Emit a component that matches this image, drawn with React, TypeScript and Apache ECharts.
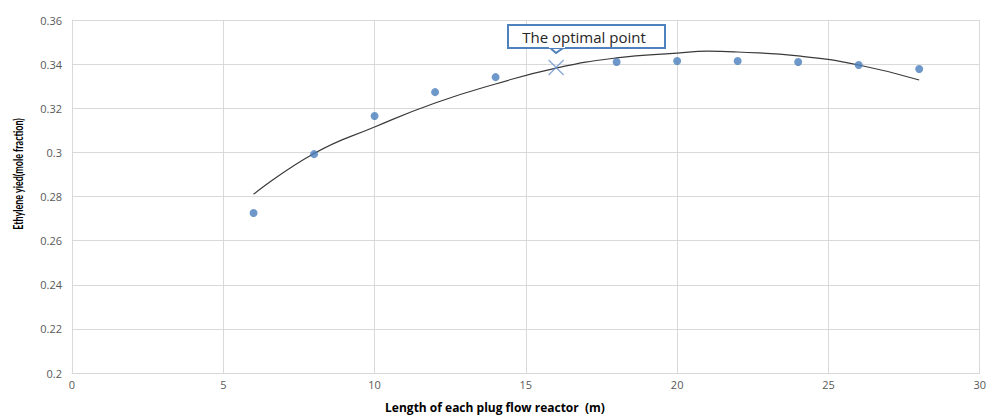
import React, { useEffect, useRef } from "react";
import * as echarts from "echarts";

const lengths = [6, 8, 10, 12, 14, 18, 20, 22, 24, 26, 28];
const yields = [0.2725, 0.2992, 0.3165, 0.3273, 0.3341, 0.341, 0.3414, 0.3414, 0.341, 0.3396, 0.3378];
const optimalPoint = [16, 0.3385];
const trendX = [6, 8, 10, 12, 14, 16, 18, 20, 21, 22, 24, 26, 28];
const trendY = [0.281, 0.2995, 0.3115, 0.3224, 0.331, 0.3382, 0.3428, 0.345, 0.3459, 0.3455, 0.3437, 0.3396, 0.3328];
const calloutText = "The optimal point";
const xTitle = "Length of each plug flow reactor  (m)";
const yTitle = "Ethylene yied(mole fraction)";

export default function App() {
  const ref = useRef<HTMLDivElement>(null);
  useEffect(() => {
    if (!ref.current) return;
    const chart = echarts.init(ref.current, null, { renderer: "svg" });
    const labelFont = "'Open Sans', sans-serif";
    chart.setOption({
      animation: false,
      grid: { left: 72, right: 4, top: 20, bottom: 43, containLabel: false },
      xAxis: {
        type: "value",
        min: 0,
        max: 30,
        interval: 5,
        axisLine: { show: true, lineStyle: { color: "#d9d9d9" } },
        axisTick: { show: false },
        splitLine: { show: true, lineStyle: { color: "#d9d9d9", width: 1 } },
        axisLabel: { color: "#595959", fontSize: 11, fontFamily: labelFont, margin: 6 },
      },
      yAxis: {
        type: "value",
        min: 0.2,
        max: 0.36,
        interval: 0.02,
        axisLine: { show: true, lineStyle: { color: "#d9d9d9" } },
        axisTick: { show: false },
        splitLine: { show: true, lineStyle: { color: "#d9d9d9", width: 1 } },
        axisLabel: { color: "#595959", fontSize: 11, fontFamily: labelFont, margin: 10 },
      },
      series: [
        {
          type: "line",
          data: trendX.map((x, i) => [x, trendY[i]]),
          smooth: true,
          symbol: "none",
          lineStyle: { color: "#3a3a3a", width: 1.2 },
          z: 2,
        },
        {
          type: "scatter",
          data: lengths.map((x, i) => [x, yields[i]]),
          symbol: "circle",
          symbolSize: 8,
          itemStyle: { color: "#4a7ebb" },
          z: 3,
        },
        {
          type: "scatter",
          data: [optimalPoint],
          symbol: "path://M0,0L10,10M10,0L0,10",
          symbolSize: 15,
          itemStyle: { color: "none", borderColor: "#6a93c9", borderWidth: 1.3 },
          z: 4,
        },
      ],
      graphic: [
        {
          type: "polygon",
          shape: { points: [[548, 46], [566, 46], [556, 53]] },
          style: { fill: "#fff", stroke: "#4f81bd", lineWidth: 2 },
          z: 10,
        },
        {
          type: "rect",
          shape: { x: 508, y: 25, width: 157, height: 23 },
          style: { fill: "#fff", stroke: "#4f81bd", lineWidth: 2 },
          z: 11,
        },
        {
          type: "rect",
          shape: { x: 549, y: 45, width: 16, height: 3 },
          style: { fill: "#fff" },
          z: 12,
        },
        {
          type: "text",
          x: 584,
          y: 37,
          style: {
            text: calloutText,
            fill: "#262626",
            font: `15px ${labelFont}`,
            align: "center",
            verticalAlign: "middle",
          },
          z: 13,
        },
        {
          type: "text",
          x: 495,
          y: 407,
          style: {
            text: xTitle,
            fill: "#000",
            font: `bold 12px ${labelFont}`,
            align: "center",
            verticalAlign: "middle",
          },
        },
        {
          type: "text",
          x: 18,
          y: 174,
          rotation: Math.PI / 2,
          scaleX: 0.64,
          style: {
            text: yTitle,
            fill: "#000",
            font: `bold 14px Lato, sans-serif`,
            align: "center",
            verticalAlign: "middle",
          },
        },
      ],
    });
    return () => chart.dispose();
  }, []);
  return <div ref={ref} style={{ width: 989, height: 416, position: "absolute", left: 0, top: 0, background: "#fff" }} />;
}
